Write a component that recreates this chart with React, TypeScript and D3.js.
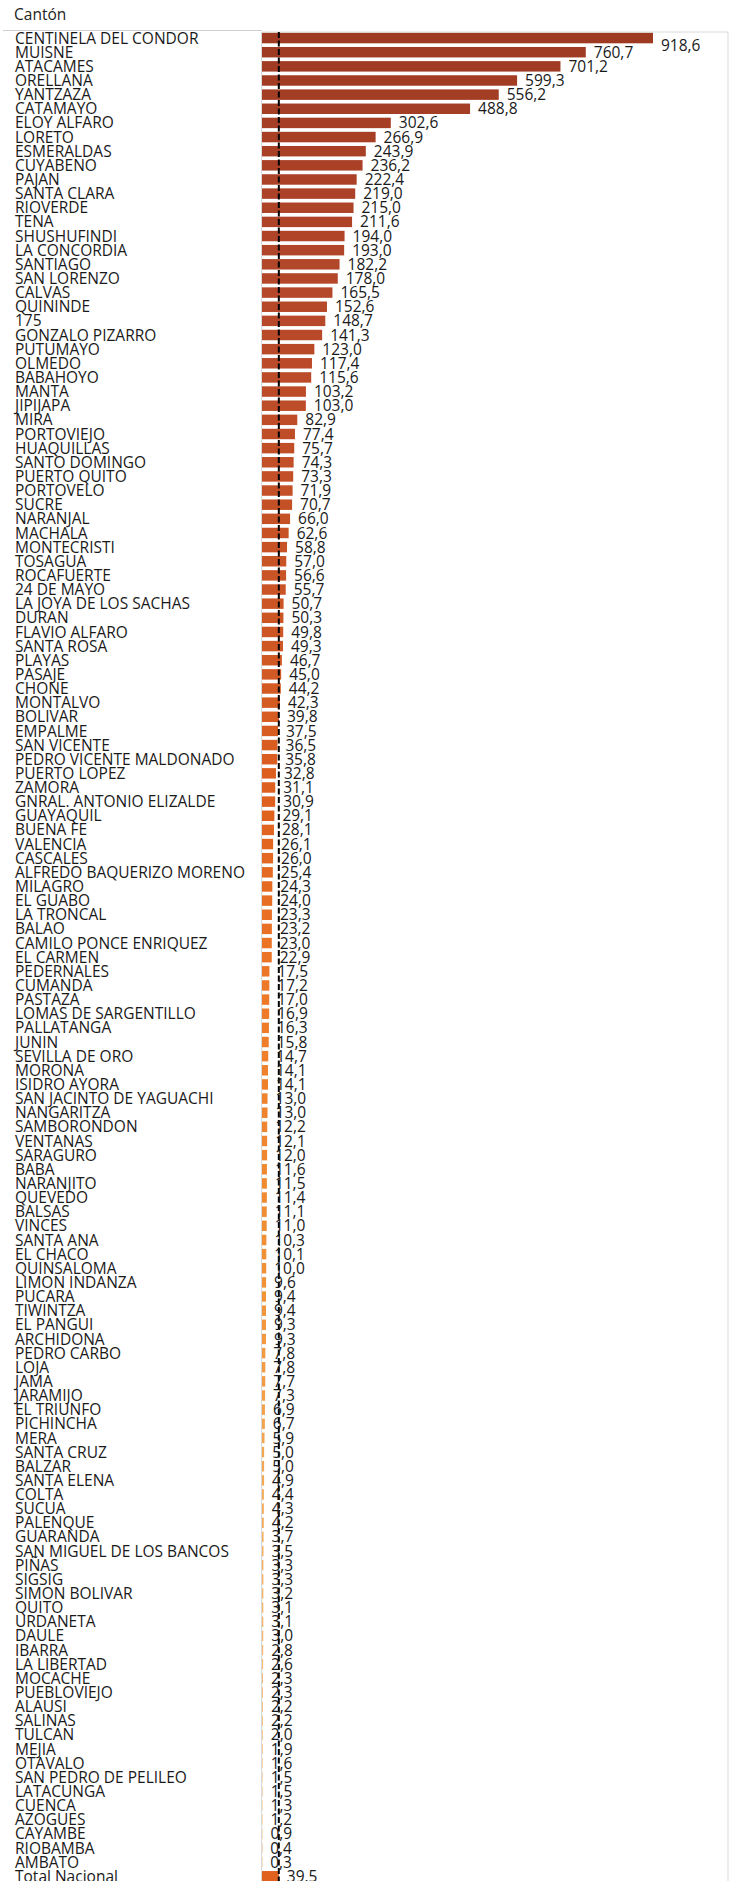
import * as d3 from "d3";

const cantones = [
  "CENTINELA DEL CONDOR", "MUISNE", "ATACAMES", "ORELLANA", "YANTZAZA", "CATAMAYO",
  "ELOY ALFARO", "LORETO", "ESMERALDAS", "CUYABENO", "PAJAN", "SANTA CLARA", "RIOVERDE",
  "TENA", "SHUSHUFINDI", "LA CONCORDIA", "SANTIAGO", "SAN LORENZO", "CALVAS", "QUININDE",
  "175", "GONZALO PIZARRO", "PUTUMAYO", "OLMEDO", "BABAHOYO", "MANTA", "JIPIJAPA", "MIRA",
  "PORTOVIEJO", "HUAQUILLAS", "SANTO DOMINGO", "PUERTO QUITO", "PORTOVELO", "SUCRE",
  "NARANJAL", "MACHALA", "MONTECRISTI", "TOSAGUA", "ROCAFUERTE", "24 DE MAYO",
  "LA JOYA DE LOS SACHAS", "DURAN", "FLAVIO ALFARO", "SANTA ROSA", "PLAYAS", "PASAJE",
  "CHONE", "MONTALVO", "BOLIVAR", "EMPALME", "SAN VICENTE", "PEDRO VICENTE MALDONADO",
  "PUERTO LOPEZ", "ZAMORA", "GNRAL. ANTONIO ELIZALDE", "GUAYAQUIL", "BUENA FE", "VALENCIA",
  "CASCALES", "ALFREDO BAQUERIZO MORENO", "MILAGRO", "EL GUABO", "LA TRONCAL", "BALAO",
  "CAMILO PONCE ENRIQUEZ", "EL CARMEN", "PEDERNALES", "CUMANDA", "PASTAZA",
  "LOMAS DE SARGENTILLO", "PALLATANGA", "JUNIN", "SEVILLA DE ORO", "MORONA", "ISIDRO AYORA",
  "SAN JACINTO DE YAGUACHI", "NANGARITZA", "SAMBORONDON", "VENTANAS", "SARAGURO", "BABA",
  "NARANJITO", "QUEVEDO", "BALSAS", "VINCES", "SANTA ANA", "EL CHACO", "QUINSALOMA",
  "LIMON INDANZA", "PUCARA", "TIWINTZA", "EL PANGUI", "ARCHIDONA", "PEDRO CARBO", "LOJA",
  "JAMA", "JARAMIJO", "EL TRIUNFO", "PICHINCHA", "MERA", "SANTA CRUZ", "BALZAR",
  "SANTA ELENA", "COLTA", "SUCUA", "PALENQUE", "GUARANDA", "SAN MIGUEL DE LOS BANCOS",
  "PIÑAS", "SIGSIG", "SIMON BOLIVAR", "QUITO", "URDANETA", "DAULE", "IBARRA", "LA LIBERTAD",
  "MOCACHE", "PUEBLOVIEJO", "ALAUSI", "SALINAS", "TULCAN", "MEJIA", "OTAVALO",
  "SAN PEDRO DE PELILEO", "LATACUNGA", "CUENCA", "AZOGUES", "CAYAMBE", "RIOBAMBA", "AMBATO",
  "Total Nacional",
];

const tasas = [
  918.6, 760.7, 701.2, 599.3, 556.2, 488.8, 302.6, 266.9, 243.9, 236.2, 222.4, 219.0, 215.0,
  211.6, 194.0, 193.0, 182.2, 178.0, 165.5, 152.6, 148.7, 141.3, 123.0, 117.4, 115.6, 103.2,
  103.0, 82.9, 77.4, 75.7, 74.3, 73.3, 71.9, 70.7, 66.0, 62.6, 58.8, 57.0, 56.6, 55.7, 50.7,
  50.3, 49.8, 49.3, 46.7, 45.0, 44.2, 42.3, 39.8, 37.5, 36.5, 35.8, 32.8, 31.1, 30.9, 29.1,
  28.1, 26.1, 26.0, 25.4, 24.3, 24.0, 23.3, 23.2, 23.0, 22.9, 17.5, 17.2, 17.0, 16.9, 16.3,
  15.8, 14.7, 14.1, 14.1, 13.0, 13.0, 12.2, 12.1, 12.0, 11.6, 11.5, 11.4, 11.1, 11.0, 10.3,
  10.1, 10.0, 9.6, 9.4, 9.4, 9.3, 9.3, 7.8, 7.8, 7.7, 7.3, 6.9, 6.7, 5.9, 5.0, 5.0, 4.9, 4.4,
  4.3, 4.2, 3.7, 3.5, 3.3, 3.3, 3.2, 3.1, 3.1, 3.0, 2.8, 2.6, 2.3, 2.3, 2.2, 2.2, 2.0, 1.9,
  1.6, 1.5, 1.5, 1.3, 1.2, 0.9, 0.4, 0.3, 39.5,
];

const promedioNacional = 39.5;

// degradado de color por posición en el ranking
const colorStops = ["#9e3a22", "#b5472a", "#cd5624", "#e0621f", "#ee7a28", "#f19236", "#f4ac5a", "#f9cd98"];
const colorIdx = [0, 18, 42, 55, 68, 88, 104, 129];
const totalColor = "#e0601e";

const W = 740;
const H = 1881;
const fmt = (v: number) => d3.format(".1f")(v).replace(".", ",");

export default function App() {
  const plot = { left: 262, right: 728, top: 32 };
  const fontSize = 15.5;

  const x = d3.scaleLinear().domain([0, 918.6]).range([plot.left, 653]);
  const y = d3
    .scaleBand<string>()
    .domain(cantones)
    .range([31, 31 + cantones.length * 14.14])
    .paddingInner(0.26)
    .paddingOuter(0.13);

  const color = d3
    .scaleLinear<string>()
    .domain(colorIdx)
    .range(colorStops)
    .interpolate(d3.interpolateRgb)
    .clamp(true);

  return (
    <>
      <style>{`body{margin:0}`}</style>
      <svg width={W} height={H} style={{ display: "block", background: "#fff" }}
        fontFamily="'Open Sans', sans-serif">
        <text x={14} y={14 + fontSize * 0.36} fontSize={fontSize} fill="#222">Cantón</text>

        {/* marco */}
        <line x1={3} x2={plot.left} y1={30.5} y2={30.5} stroke="#cfcfcf" />
        <line x1={plot.left} x2={plot.right} y1={plot.top} y2={plot.top} stroke="#d9d9d9" />
        <line x1={plot.right} x2={plot.right} y1={plot.top} y2={H} stroke="#d9d9d9" />
        <line x1={plot.left - 0.5} x2={plot.left - 0.5} y1={plot.top} y2={H} stroke="#d9d9d9" />

        {cantones.map((c, i) => {
          const v = tasas[i];
          const cy = (y(c) ?? 0) + y.bandwidth() / 2;
          const isTotal = i === cantones.length - 1;
          return (
            <g key={c}>
              <rect x={plot.left} y={y(c)} width={Math.max(0.6, x(v) - plot.left)} height={y.bandwidth()}
                fill={isTotal ? totalColor : color(i)} />
              <text x={15} y={cy + fontSize * 0.36} fontSize={fontSize} fill="#1a1a1a">{c}</text>
            </g>
          );
        })}

        <line x1={x(promedioNacional)} x2={x(promedioNacional)} y1={plot.top} y2={H}
          stroke="#000" strokeWidth={2} strokeDasharray="6,2.5" />

        {cantones.map((c, i) => {
          const v = tasas[i];
          const cy = (y(c) ?? 0) + y.bandwidth() / 2 + (i === 0 ? 7 : 0);
          return (
            <text key={c} x={x(v) + 8} y={cy + fontSize * 0.36} fontSize={fontSize} fill="#1a1a1a">
              {fmt(v)}
            </text>
          );
        })}
      </svg>
    </>
  );
}
